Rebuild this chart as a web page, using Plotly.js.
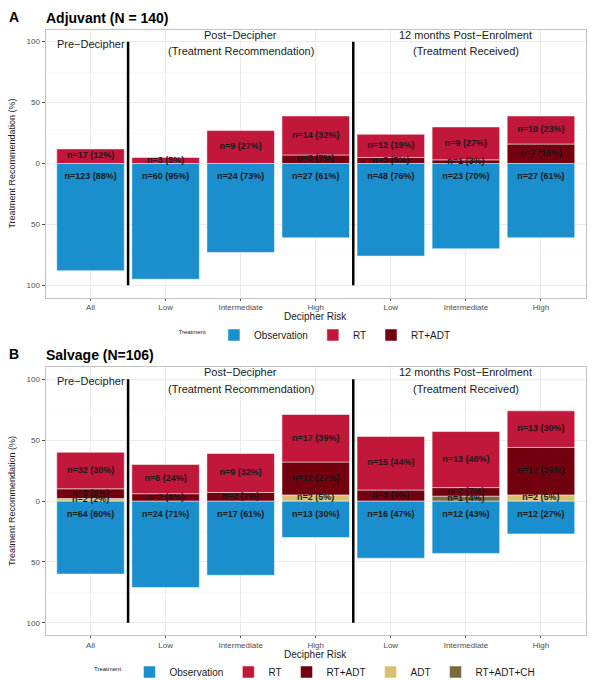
<!DOCTYPE html>
<html>
<head>
<meta charset="utf-8">
<script src="https://cdn.plot.ly/plotly-3.0.1.min.js"></script>
<style>html,body{margin:0;padding:0;background:#fff;}#chart{width:600px;height:680px;}</style>
</head>
<body>
<div id="chart"></div>
<script>
// ---- Data ----
const categories = ['All', 'Low', 'Intermediate', 'High', 'Low', 'Intermediate', 'High'];
const positions = [1, 2, 3, 4, 5, 6, 7];
const yTickVals = [-100, -50, 0, 50, 100];
const yTickText = ['100', '50', '0', '50', '100'];

// Panel A: Adjuvant (N = 140)
const adjObsPct = [88, 95, 73, 61, 76, 70, 61];
const adjObsN = [123, 60, 24, 27, 48, 23, 27];
const adjRtAdtPct = [0, 0, 0, 7, 5, 3, 16];
const adjRtAdtN = [0, 0, 0, 3, 3, 1, 7];
const adjRtPct = [12, 5, 27, 32, 19, 27, 23];
const adjRtN = [17, 3, 9, 14, 12, 9, 10];

// Panel B: Salvage (N=106)
const salObsPct = [60, 71, 61, 30, 47, 43, 27];
const salObsN = [64, 24, 17, 13, 16, 12, 12];
const salChPct = [0, 0, 0, 0, 0, 4, 0];
const salChN = [0, 0, 0, 0, 0, 1, 0];
const salAdtPct = [2, 0, 0, 5, 0, 0, 5];
const salAdtN = [2, 0, 0, 2, 0, 0, 2];
const salRtAdtPct = [8, 6, 7, 27, 9, 7, 39];
const salRtAdtN = [8, 2, 2, 12, 3, 2, 17];
const salRtPct = [30, 24, 32, 39, 44, 46, 30];
const salRtN = [32, 8, 9, 17, 15, 13, 13];

const colors = {
  'Observation': '#1B8FCE',
  'RT': '#C0173A',
  'RT+ADT': '#72000F',
  'ADT': '#D8BF72',
  'RT+ADT+CH': '#7A6A3C'
};
const legendRank = {'Observation': 1, 'RT': 2, 'RT+ADT': 3, 'ADT': 4, 'RT+ADT+CH': 5};

const FONT = 'Liberation Sans, Arial, sans-serif';
const OBS_LABEL_Y = -11;
const traces = [];

function label(n, p) { return 'n=' + n + ' (' + p + '%)'; }

function addPanel(suffix, legendId, obs, positives) {
  const xa = 'x' + suffix, ya = 'y' + suffix;
  traces.push({
    type: 'bar', name: 'Observation', x: positions, y: obs.pct.map(v => v ? -v : null),
    xaxis: xa, yaxis: ya, legend: legendId, legendrank: legendRank['Observation'],
    marker: {color: colors['Observation'], line: {color: 'rgba(255,255,255,0.5)', width: 1}},
    hoverinfo: 'skip'
  });
  const labX = [], labY = [], labT = [];
  obs.pct.forEach((p, i) => { labX.push(positions[i]); labY.push(OBS_LABEL_Y); labT.push(label(obs.n[i], p)); });
  const base = positions.map(() => 0);
  positives.forEach(s => {
    traces.push({
      type: 'bar', name: s.name, x: positions, y: s.pct.map(v => v ? v : null),
      xaxis: xa, yaxis: ya, legend: legendId, legendrank: legendRank[s.name],
      marker: {color: colors[s.name], line: {color: 'rgba(255,255,255,0.5)', width: 1}},
      hoverinfo: 'skip'
    });
    s.pct.forEach((p, i) => {
      if (p) {
        labX.push(positions[i]); labY.push(base[i] + p / 2); labT.push(label(s.n[i], p));
        base[i] += p;
      }
    });
  });
  traces.push({
    type: 'scatter', mode: 'text', x: labX, y: labY, text: labT, xaxis: xa, yaxis: ya,
    showlegend: false, hoverinfo: 'skip',
    textfont: {family: FONT, size: 9, color: '#1a1a1a', weight: 'bold'}
  });
}

addPanel('', 'legend', {pct: adjObsPct, n: adjObsN}, [
  {name: 'RT+ADT', pct: adjRtAdtPct, n: adjRtAdtN},
  {name: 'RT', pct: adjRtPct, n: adjRtN}
]);
addPanel('2', 'legend2', {pct: salObsPct, n: salObsN}, [
  {name: 'RT+ADT+CH', pct: salChPct, n: salChN},
  {name: 'ADT', pct: salAdtPct, n: salAdtN},
  {name: 'RT+ADT', pct: salRtAdtPct, n: salRtAdtN},
  {name: 'RT', pct: salRtPct, n: salRtN}
]);

const W = 600, H = 680;
const px = v => v / W, py = v => 1 - v / H;

function xaxisDef(anchor) {
  return {
    anchor: anchor, domain: [px(45.5), px(586)], range: [0.4, 7.6],
    tickmode: 'array', tickvals: positions, ticktext: categories,
    tickfont: {family: FONT, size: 8, color: '#4d4d4d'},
    ticks: 'outside', ticklen: 2, tickcolor: '#4d4d4d',
    showgrid: true, gridcolor: '#ebebeb', gridwidth: 1, zeroline: false,
    showline: true, mirror: true, linecolor: '#c2c2c2', linewidth: 1,
    automargin: false, fixedrange: true
  };
}
function yaxisDef(anchor, top, bottom) {
  return {
    anchor: anchor, domain: [py(bottom), py(top)], range: [-110, 110],
    tickmode: 'array', tickvals: yTickVals, ticktext: yTickText,
    tickfont: {family: FONT, size: 8, color: '#4d4d4d'},
    ticks: 'outside', ticklen: 3, tickcolor: '#4d4d4d',
    showgrid: true, gridcolor: '#ebebeb', gridwidth: 1, zeroline: false,
    minor: {tickvals: [-75, -25, 25, 75], showgrid: true, gridcolor: '#f4f4f4', gridwidth: 0.5, ticks: ''},
    showline: true, mirror: true, linecolor: '#c2c2c2', linewidth: 1,
    title: {text: 'Treatment Recommendation (%)', font: {family: FONT, size: 9, color: '#1a1a1a'}, standoff: 9},
    automargin: false, fixedrange: true
  };
}

function divider(xref, yref, xv) {
  return {type: 'line', xref: xref, yref: yref, x0: xv, x1: xv, y0: -100, y1: 100,
          line: {color: '#000', width: 2.5}, layer: 'above'};
}
function phaseNotes(xref, yref) {
  const f = {family: FONT, size: 11, color: '#1a1a1a'};
  return [
    {xref: xref, yref: yref, x: 1, y: 98.5, text: 'Pre\u2212Decipher', showarrow: false, font: f},
    {xref: xref, yref: yref, x: 3, y: 105.5, text: 'Post\u2212Decipher', showarrow: false, font: f},
    {xref: xref, yref: yref, x: 3, y: 92, text: '(Treatment Recommendation)', showarrow: false, font: f},
    {xref: xref, yref: yref, x: 6, y: 105.5, text: '12 months Post\u2212Enrolment', showarrow: false, font: f},
    {xref: xref, yref: yref, x: 6, y: 92, text: '(Treatment Received)', showarrow: false, font: f}
  ];
}
function xTitle(yPx) {
  return {xref: 'paper', yref: 'paper', x: px(316), y: py(yPx), xanchor: 'center', yanchor: 'middle',
          text: 'Decipher Risk', showarrow: false, font: {family: FONT, size: 10, color: '#1a1a1a'}};
}
const titleFont = {family: FONT, size: 14, color: '#000', weight: 'bold'};

function legendDef(yPx) {
  return {
    orientation: 'h', xref: 'container', yref: 'container',
    x: px(316), xanchor: 'center', y: py(yPx), yanchor: 'middle',
    font: {family: FONT, size: 10, color: '#1a1a1a'},
    title: {text: '<span style="font-size:6px">Treatment</span>', font: {family: FONT, size: 10, color: '#1a1a1a'}, side: 'left'},
    itemwidth: 30, tracegroupgap: 0, bgcolor: 'rgba(0,0,0,0)'
  };
}

const layout = {
  width: W, height: H, autosize: false,
  margin: {l: 0, r: 0, t: 0, b: 0, autoexpand: false},
  paper_bgcolor: '#fff', plot_bgcolor: '#fff',
  barmode: 'relative', bargap: 0.1,
  font: {family: FONT},
  xaxis: xaxisDef('y'),
  yaxis: yaxisDef('x', 29.5, 297.5),
  xaxis2: xaxisDef('y2'),
  yaxis2: yaxisDef('x2', 367, 635),
  legend: legendDef(335),
  legend2: legendDef(672),
  shapes: [divider('x', 'y', 1.5), divider('x', 'y', 4.5), divider('x2', 'y2', 1.5), divider('x2', 'y2', 4.5)],
  annotations: [
    {xref: 'paper', yref: 'paper', x: px(7), y: py(17), xanchor: 'left', yanchor: 'middle', text: 'A', showarrow: false, font: titleFont},
    {xref: 'paper', yref: 'paper', x: px(44), y: py(18), xanchor: 'left', yanchor: 'middle', text: 'Adjuvant (N = 140)', showarrow: false, font: titleFont},
    {xref: 'paper', yref: 'paper', x: px(7), y: py(354), xanchor: 'left', yanchor: 'middle', text: 'B', showarrow: false, font: titleFont},
    {xref: 'paper', yref: 'paper', x: px(44), y: py(355), xanchor: 'left', yanchor: 'middle', text: 'Salvage (N=106)', showarrow: false, font: titleFont},
    xTitle(316.5), xTitle(654)
  ].concat(phaseNotes('x', 'y'), phaseNotes('x2', 'y2'))
};

Plotly.newPlot('chart', traces, layout, {staticPlot: true, displayModeBar: false});
</script>
</body>
</html>
